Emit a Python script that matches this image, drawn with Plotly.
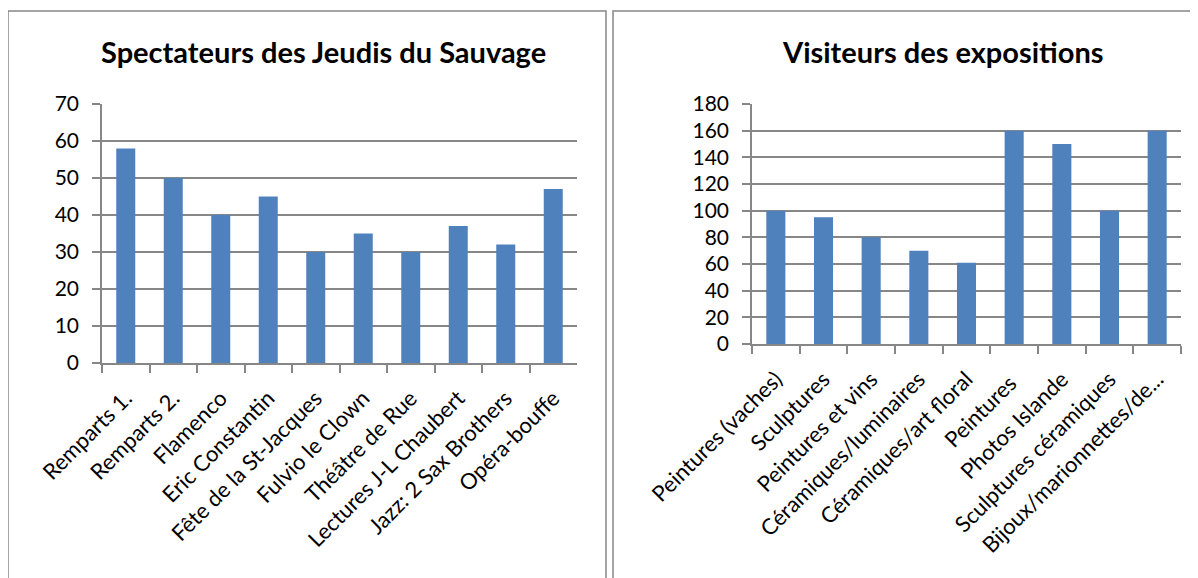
import plotly.graph_objects as go

# data
spectacles = [
    'Remparts 1.', 'Remparts 2.', 'Flamenco', 'Eric Constantin',
    'Fête de la St-Jacques', 'Fulvio le Clown', 'Théâtre de Rue',
    'Lectures J-L Chaubert', 'Jazz: 2 Sax Brothers', 'Opéra-bouffe',
]
spectateurs = [58, 50, 40, 45, 30, 35, 30, 37, 32, 47]

expositions = [
    'Peintures (vaches)', 'Sculptures', 'Peintures et vins',
    'Céramiques/luminaires', 'Céramiques/art floral', 'Peintures ',
    'Photos Islande', 'Sculptures céramiques', 'Bijoux/marionnettes/de...',
]
visiteurs = [100, 95, 80, 70, 61, 160, 150, 100, 160]

W, H = 1198, 578
OFF = 8  # page body margin
BLUE = '#4F81BD'
GREY = '#878787'
FONT = 'Lato'


def px(x):
    return (x - OFF) / W


def py(y):
    return 1 - (y - OFF) / H


fig = go.Figure()
fig.add_trace(go.Bar(x=spectacles, y=spectateurs, marker_color=BLUE,
                     marker_line_width=0, xaxis='x', yaxis='y'))
fig.add_trace(go.Bar(x=expositions, y=visiteurs, marker_color=BLUE,
                     marker_line_width=0, xaxis='x2', yaxis='y2'))

xcommon = dict(
    showline=True, linecolor=GREY, linewidth=1.5, automargin=False,
    ticks='outside', tickson='boundaries', ticklen=8, tickcolor=GREY,
    tickwidth=1.5, tickangle=-45, showgrid=False, ticklabelstandoff=12,
    tickfont=dict(family=FONT, size=22, color='black'),
)
ycommon = dict(
    showline=True, linecolor=GREY, linewidth=1.5, automargin=False,
    ticks='outside', ticklen=8, tickcolor=GREY, tickwidth=1.5,
    ticklabelstandoff=9,
    showgrid=True, gridcolor=GREY, gridwidth=1.5, zeroline=False,
    tickfont=dict(family=FONT, size=21, color='black'),
)

fig.update_layout(
    width=W, height=H,
    margin=dict(l=0, r=0, t=0, b=0, autoexpand=False),
    paper_bgcolor='white', plot_bgcolor='white',
    showlegend=False, bargap=0.6,
    xaxis=dict(domain=[px(102), px(577)], anchor='y', **xcommon),
    yaxis=dict(domain=[py(363), py(104)], anchor='x', range=[0, 70],
               dtick=10, **ycommon),
    xaxis2=dict(domain=[px(752), px(1181)], anchor='y2', **xcommon),
    yaxis2=dict(domain=[py(344), py(104)], anchor='x2', range=[0, 180],
                dtick=20, **ycommon),
    shapes=[
        dict(type='rect', xref='paper', yref='paper',
             x0=px(8), x1=px(606), y0=py(600), y1=py(11),
             line=dict(color=GREY, width=1.5)),
        dict(type='rect', xref='paper', yref='paper',
             x0=px(613), x1=px(1194), y0=py(600), y1=py(11),
             line=dict(color=GREY, width=1.5)),
    ],
    annotations=[
        dict(text='<b>Spectateurs des Jeudis du Sauvage</b>', xref='paper',
             yref='paper', x=px(323), y=py(51), xanchor='center',
             yanchor='middle', showarrow=False,
             font=dict(family=FONT, size=29, color='black')),
        dict(text='<b>Visiteurs des expositions</b>', xref='paper',
             yref='paper', x=px(943), y=py(51), xanchor='center',
             yanchor='middle', showarrow=False,
             font=dict(family=FONT, size=29, color='black')),
    ],
)

fig.write_html('out.html')
